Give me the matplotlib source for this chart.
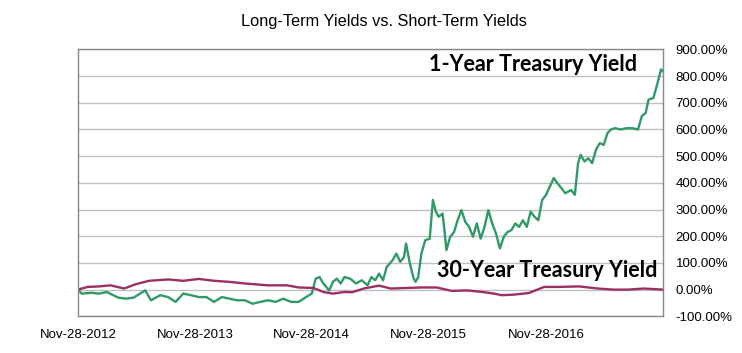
import pandas as pd
import matplotlib
matplotlib.use('Agg')
import matplotlib.pyplot as plt
from matplotlib.ticker import FuncFormatter

# 1-Year Treasury yield, % change since Nov-28-2012
one_year_dates = [
    '2012-11-28', '2012-12-10', '2013-01-09', '2013-02-02', '2013-02-26', '2013-04-03',
    '2013-04-27', '2013-05-21', '2013-06-02', '2013-06-26', '2013-07-14', '2013-08-12',
    '2013-09-05', '2013-09-29', '2013-10-23', '2013-11-16', '2013-12-10', '2014-01-03',
    '2014-01-27', '2014-02-20', '2014-03-16', '2014-04-09', '2014-05-03', '2014-05-27',
    '2014-06-20', '2014-07-14', '2014-08-07', '2014-08-31', '2014-09-24', '2014-10-18',
    '2014-11-10', '2014-11-28', '2014-12-10', '2014-12-22', '2015-01-03', '2015-01-21',
    '2015-02-02', '2015-02-14', '2015-02-26', '2015-03-10', '2015-03-28', '2015-04-15',
    '2015-05-03', '2015-05-21', '2015-06-02', '2015-06-14', '2015-06-26', '2015-07-08',
    '2015-07-20', '2015-08-07', '2015-08-19', '2015-08-31', '2015-09-12', '2015-09-18',
    '2015-09-30', '2015-10-12', '2015-10-18', '2015-10-26', '2015-11-05', '2015-11-17',
    '2015-12-01', '2015-12-11', '2015-12-20', '2015-12-29', '2016-01-10', '2016-01-16',
    '2016-01-22', '2016-02-03', '2016-02-15', '2016-02-26', '2016-03-09', '2016-03-21',
    '2016-04-02', '2016-04-14', '2016-04-26', '2016-05-08', '2016-05-20', '2016-06-01',
    '2016-06-13', '2016-06-25', '2016-07-07', '2016-07-19', '2016-07-31', '2016-08-12',
    '2016-08-24', '2016-09-05', '2016-09-17', '2016-09-29', '2016-10-11', '2016-10-23',
    '2016-11-04', '2016-11-16', '2016-11-28', '2016-12-10', '2016-12-22', '2017-01-03',
    '2017-01-15', '2017-01-27', '2017-02-14', '2017-02-26', '2017-03-08', '2017-03-16',
    '2017-03-28', '2017-04-09', '2017-04-21', '2017-05-03', '2017-05-15', '2017-05-27',
    '2017-06-08', '2017-06-19', '2017-07-01', '2017-07-19', '2017-08-06', '2017-08-24',
    '2017-09-11', '2017-09-23', '2017-10-05', '2017-10-14', '2017-10-29', '2017-11-10',
    '2017-11-22', '2017-11-28',
]
one_year_change = [
    0, -15, -12, -15, -9, -30,
    -34, -30, -21, -3, -40, -21,
    -28, -46, -15, -21, -28, -28,
    -46, -28, -34, -40, -40, -53,
    -46, -40, -46, -34, -46, -46,
    -28, -15, 41, 47, 23, -3,
    29, 41, 23, 47, 41, 23,
    35, 16, 47, 35, 60, 35,
    85, 110, 135, 104, 122, 173,
    98, 41, 29, 47, 135, 185,
    191, 336, 292, 273, 285, 223,
    148, 198, 216, 260, 298, 254,
    235, 198, 248, 191, 235, 298,
    248, 210, 154, 198, 216, 223,
    248, 235, 260, 235, 292, 273,
    260, 336, 355, 386, 418, 398,
    380, 361, 373, 355, 474, 505,
    480, 492, 474, 524, 549, 542,
    587, 600, 605, 600, 605, 605,
    600, 650, 662, 712, 718, 769,
    825, 818,
]

# 30-Year Treasury yield, % change since Nov-28-2012
thirty_year_dates = [
    '2012-11-28', '2012-12-28', '2013-02-02', '2013-03-10', '2013-04-21', '2013-05-27',
    '2013-07-08', '2013-09-05', '2013-10-23', '2013-12-10', '2014-01-27', '2014-03-16',
    '2014-05-03', '2014-07-14', '2014-09-12', '2014-10-18', '2014-12-04', '2015-01-03',
    '2015-02-02', '2015-03-10', '2015-04-03', '2015-05-09', '2015-06-26', '2015-08-01',
    '2015-09-18', '2015-11-05', '2015-12-23', '2016-02-08', '2016-03-27', '2016-05-14',
    '2016-06-19', '2016-07-13', '2016-08-18', '2016-10-05', '2016-11-22', '2017-01-09',
    '2017-03-10', '2017-05-09', '2017-06-26', '2017-08-12', '2017-09-29', '2017-11-28',
]
thirty_year_change = [
    0, 10, 12, 16, 4, 20,
    33, 38, 33, 40, 33, 29,
    23, 16, 16, 8, 6, -9,
    -15, -9, -10, 4, 15, 4,
    6, 8, 8, -5, -3, -9,
    -15, -21, -19, -13, 10, 10,
    12, 4, 0, 0, 4, 0,
]

tick_dates = ['2012-11-28', '2013-11-28', '2014-11-28', '2015-11-28', '2016-11-28']
tick_labels = ['Nov-28-2012', 'Nov-28-2013', 'Nov-28-2014', 'Nov-28-2015', 'Nov-28-2016']
y_ticks = list(range(-100, 1000, 100))

GREEN = '#2f9a68'
MAROON = '#9c2f62'


def main():
    fig = plt.figure(figsize=(7.42, 3.53), dpi=100)
    ax = fig.add_axes([0.105, 0.104, 0.7885, 0.756])

    ax.plot(pd.to_datetime(one_year_dates), one_year_change, color=GREEN, lw=1.7)
    ax.plot(pd.to_datetime(thirty_year_dates), thirty_year_change, color=MAROON, lw=1.7)

    ax.set_xlim(pd.Timestamp('2012-11-28'), pd.Timestamp('2017-11-28'))
    ax.set_ylim(-100, 900)

    ax.set_xticks(pd.to_datetime(tick_dates))
    ax.set_xticklabels(tick_labels, fontsize=9.5, family='Liberation Sans')
    ax.set_yticks(y_ticks)
    ax.yaxis.set_major_formatter(FuncFormatter(lambda v, p: f'{v:.2f}%'))
    ax.yaxis.tick_right()
    for lbl in ax.get_yticklabels():
        lbl.set_fontsize(9.5)
        lbl.set_family('Liberation Sans')
    ax.tick_params(axis='x', length=0, pad=9)
    ax.tick_params(axis='y', length=0, pad=9)

    ax.grid(axis='y', color='#bfbfbf', lw=1)
    ax.set_axisbelow(True)
    for s in ax.spines.values():
        s.set_color('#888888')
        s.set_linewidth(1)

    ax.text(0.956, 0.945, '1-Year Treasury Yield', transform=ax.transAxes,
            ha='right', va='center', fontsize=15.5, fontweight='bold', family='Lato')
    ax.text(0.99, 0.17, '30-Year Treasury Yield', transform=ax.transAxes,
            ha='right', va='center', fontsize=15.5, fontweight='bold', family='Lato')

    fig.text(0.5175, 0.94, 'Long-Term Yields vs. Short-Term Yields',
             ha='center', va='center', fontsize=11.8, family='Liberation Sans')

    fig.savefig('out.png', dpi=100)


if __name__ == "__main__":
    main()
